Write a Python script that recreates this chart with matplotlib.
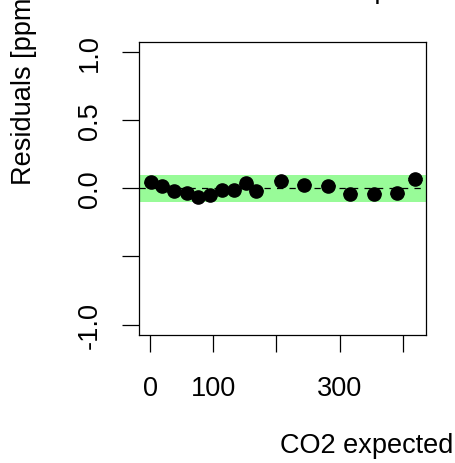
import matplotlib
matplotlib.use("Agg")
import matplotlib.pyplot as plt

plt.rcParams['font.family'] = ['Liberation Sans', 'DejaVu Sans']

co2_expected = [1, 19, 38, 58, 76, 95, 114, 133, 151, 168, 207, 243, 281, 316, 354, 391, 419]
residuals = [0.044, 0.019, -0.022, -0.037, -0.062, -0.049, -0.012, -0.012, 0.036, -0.018,
             0.056, 0.026, 0.019, -0.040, -0.040, -0.037, 0.068]
band = 0.1
xticks = [0, 100, 200, 300, 400]
xticklabels = ["0", "100", "", "300", ""]
yticks = [-1.0, -0.5, 0.0, 0.5, 1.0]
yticklabels = ["-1.0", "", "0.0", "0.5", "1.0"]

W, H = 455, 464
fig = plt.figure(figsize=(W / 100, H / 100), dpi=100)
ax = fig.add_axes([139 / W, 1 - 336 / H, (426 - 139) / W, (336 - 43) / H])

ax.axhspan(-band, band, color='#98FB98', lw=0, zorder=1)
ax.axhline(0, color='black', lw=0.9, ls=(0, (5, 5)), zorder=2)
ax.errorbar(co2_expected, residuals, yerr=0.004, fmt='none', ecolor='black',
            elinewidth=0.8, capsize=5, capthick=0.8, zorder=3)
ax.plot(co2_expected, residuals, 'o', color='black', ms=9.5, zorder=4)

ax.set_xlim(-17.4, 436.4)
ax.set_ylim(-1.076, 1.073)
ax.set_xticks(xticks)
ax.set_xticklabels(xticklabels)
ax.set_yticks(yticks)
ax.set_yticklabels(yticklabels, rotation=90, va='center')
ax.tick_params(axis='both', length=12, width=0.9, labelsize=19.5, colors='black')
ax.tick_params(axis='x', pad=17)
ax.tick_params(axis='y', pad=14)
for s in ax.spines.values():
    s.set_linewidth(0.9)

fig.text(24 / W, 1 - 185 / H, "Residuals [ppm]", rotation=90, ha='center', va='bottom', fontsize=19.5)
fig.text(367 / W, 1 - 446 / H, "CO2 expected", ha='center', va='center', fontsize=19.5)
fig.text(284 / W, 1 + 2 / H, "Residuals vs. CO2 expected", ha='center', va='baseline', fontsize=19.5)

fig.savefig("out.png", dpi=100)
